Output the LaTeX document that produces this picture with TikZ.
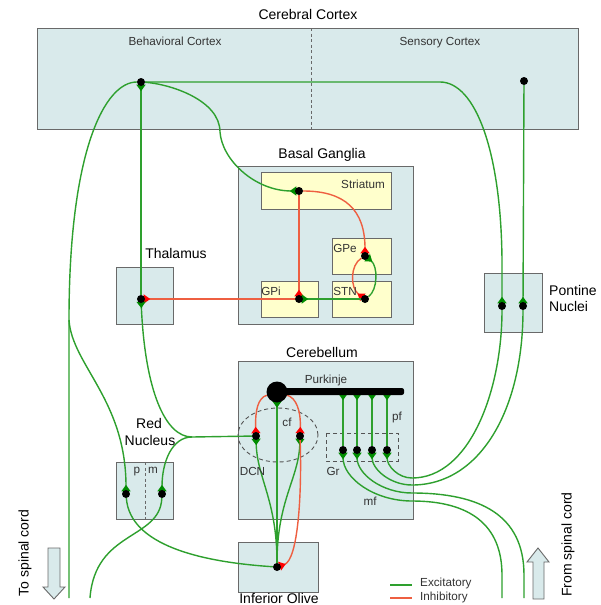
\documentclass[tikz,border=0pt]{standalone}
\usepackage{fontspec}
\setmainfont{Liberation Sans}
\usetikzlibrary{arrows.meta}
\definecolor{boxfill}{RGB}{217,234,235}
\definecolor{boxline}{RGB}{105,105,105}
\definecolor{subfill}{RGB}{255,255,204}
\definecolor{excg}{RGB}{46,160,46}
\definecolor{excgtip}{RGB}{0,140,0}
\definecolor{inhr}{RGB}{238,95,65}
\definecolor{inhrtip}{RGB}{255,0,0}
\definecolor{lblgray}{RGB}{51,51,51}
\pgfdeclarelayer{bg}
\pgfdeclarelayer{mid}
\pgfsetlayers{bg,mid,main}
\tikzset{
  region/.style={draw=boxline, fill=boxfill, line width=0.9pt},
  subreg/.style={draw=boxline, fill=subfill, line width=0.9pt},
  neuron/.style={circle, fill=black, inner sep=0pt, minimum size=8pt},
  exc/.style={draw=excg, line width=1.4pt},
  inh/.style={draw=inhr, line width=1.4pt},
  etip/.style={-{Triangle[reversed, length=6.5pt, width=9pt, color=excgtip]}, shorten >=-1.5pt},
  itip/.style={-{Triangle[reversed, length=6.5pt, width=9pt, color=inhrtip]}, shorten >=-1.5pt},
  big/.style={font=\fontsize{14}{17}\selectfont, text=black, inner sep=0pt},
  small/.style={font=\fontsize{11.7}{14}\selectfont, text=lblgray, inner sep=0pt},
  divider/.style={draw=boxline, line width=0.9pt, dash pattern=on 3pt off 2.5pt},
  dashzone/.style={draw=boxline!80!black, line width=0.9pt, dash pattern=on 4pt off 3pt},
  block/.style={draw=boxline, fill=boxfill, line width=0.9pt},
}
\begin{document}
\begin{tikzpicture}[x=1pt,y=-1pt]
\useasboundingbox (0,0) rectangle (601,605);
\begin{pgfonlayer}{bg}
\fill[white] (0,0) rectangle (601,605);
% regions
\draw[region] (37,28) rectangle (578,129);
\draw[divider] (311,28) -- (311,129);
\draw[region] (238,166) rectangle (413,324);
\draw[subreg] (261,172) rectangle (391,209);
\draw[subreg] (332,238) rectangle (391,274);
\draw[subreg] (261,281) rectangle (318,317);
\draw[subreg] (332,281) rectangle (391,317);
\draw[region] (116,267) rectangle (173,324);
\draw[region] (484,273) rectangle (542,332);
\draw[region] (238,361) rectangle (413,519);
\draw[region] (116,462) rectangle (173,519);
\draw[divider] (145,462) -- (145,519);
\draw[region] (238,542) rectangle (318,592);
\draw[dashzone] (278,435) ellipse [x radius=40pt, y radius=27pt];
\draw[dashzone] (326,433) rectangle (398,461);
% block arrows
\draw[block] (48,548) -- (60,548) -- (60,587) -- (65,587) -- (54,599) -- (43,587) -- (48,587) -- cycle;
\draw[block] (533,599) -- (544,599) -- (544,562) -- (549,562) -- (538,548) -- (527,562) -- (533,562) -- cycle;
\end{pgfonlayer}

% neurons
\node[neuron] (cb) at (141,82) {};
\node[neuron] (cs) at (524,81) {};
\node[neuron] (st) at (299,191) {};
\node[neuron] (gpe) at (365,256) {};
\node[neuron] (gpi) at (299,299) {};
\node[neuron] (stn) at (365,299) {};
\node[neuron] (th) at (141,299) {};
\node[neuron] (pnl) at (502,306) {};
\node[neuron] (pnr) at (523,306) {};
\node[fill=black, rounded corners=2.5pt, inner sep=0pt, minimum width=124pt, minimum height=7pt, anchor=west] (dend) at (280,391.5) {};
\node[circle, fill=black, inner sep=0pt, minimum size=21pt] (pk) at (277,392) {};
\node[neuron] (dcnl) at (256,436) {};
\node[neuron] (dcnr) at (300,436) {};
\node[neuron] (gr1) at (343,450) {};
\node[neuron] (gr2) at (357,450) {};
\node[neuron] (gr3) at (372,450) {};
\node[neuron] (gr4) at (387,450) {};
\node[neuron] (rnp) at (126,494) {};
\node[neuron] (rnm) at (162,494) {};
\node[neuron] (io) at (277,567) {};
\coordinate (jn) at (192,437);
\coordinate (br) at (69,320);
\coordinate (cst) at (69,598);
\coordinate (rst) at (90,598);
\coordinate (spl) at (502,598);
\coordinate (spr) at (524,598);

\begin{pgfonlayer}{mid}
% cortex outputs
\draw[exc] (cb) .. controls (105,82) and (69,150) .. (br) -- (cst);
\draw[exc,etip] (br) .. controls (72,365) and (126,400) .. (rnp);
\draw[exc,etip] (cb) .. controls (170,84) and (220,100) .. (220,132) .. controls (222,160) and (255,191) .. (st);
\draw[exc,etip] (cb) -- (440,82) .. controls (475,82) and (501,150) .. (502,260) -- (pnl);
\draw[exc,etip] (cs) -- (pnr);
\draw[exc,etip] (th) -- (cb);
% basal ganglia
\draw[inh,itip] (st) -- (gpi);
\draw[inh,itip] (st) .. controls (345,191) and (365,210) .. (gpe);
\draw[inh,itip] (gpe) .. controls (350,265) and (350,288) .. (stn);
\draw[exc,etip] (stn) .. controls (378,290) and (378,266) .. (gpe);
\draw[exc,etip] (stn) -- (gpi);
\draw[inh,itip] (gpi) -- (th);
% DCN output
\draw[exc] (dcnl) -- (jn);
\draw[exc,etip] (jn) .. controls (165,437) and (145,390) .. (th);
\draw[exc,etip] (jn) .. controls (172,437) and (162,462) .. (rnm);
% red nucleus outputs
\draw[exc] (rnp) .. controls (130,545) and (200,562) .. (io);
\draw[exc] (rnm) .. controls (160,540) and (95,530) .. (rst);
% cerebellum
\draw[inh,itip] (pk) .. controls (258,398) and (255,410) .. (dcnl);
\draw[inh,itip] (pk) .. controls (296,398) and (301,410) .. (dcnr);
\draw[exc,etip] (io) -- (pk);
\draw[exc,etip] (io) .. controls (277,500) and (257,478) .. (dcnl);
\draw[exc,etip] (io) .. controls (277,500) and (299,478) .. (dcnr);
\draw[inh,itip] (dcnr) .. controls (302,495) and (298,560) .. (io);
\foreach \i in {1,...,4} \draw[exc,etip] (gr\i) -- (gr\i |- dend.south);
% mossy fibres
\draw[exc,etip] (pnl) .. controls (502,390) and (470,478) .. (412,478) .. controls (398,478) and (387,466) .. (gr4);
\draw[exc,etip] (pnr) .. controls (523,410) and (480,485) .. (412,485) .. controls (390,485) and (372,469) .. (gr3);
\draw[exc,etip] (spr) -- (524,575) .. controls (524,515) and (480,493) .. (412,493) .. controls (382,493) and (357,474) .. (gr2);
\draw[exc,etip] (spl) -- (502,575) .. controls (502,525) and (470,501) .. (412,501) .. controls (374,501) and (343,478) .. (gr1);
% legend
\draw[exc] (390,585) -- (412,585);
\draw[inh] (390,598) -- (412,598);
\end{pgfonlayer}

% labels
\node[big, anchor=base] (tCC) at (308,19.5) {Cerebral Cortex};
\node[small, anchor=base] (tBC) at (175,45) {Behavioral Cortex};
\node[small, anchor=base] (tSC) at (440,45.5) {Sensory Cortex};
\node[big, anchor=base] (tBG) at (322,158) {Basal Ganglia};
\node[small, anchor=base] (tSt) at (363,188) {Striatum};
\node[small, anchor=base] (tGPe) at (345,252) {GPe};
\node[small, anchor=base] (tGPi) at (271,295) {GPi};
\node[small, anchor=base] (tSTN) at (345,295) {STN};
\node[big, anchor=base] (tTh) at (176,258) {Thalamus};
\node[big, anchor=base west] (tPN1) at (549,295) {Pontine};
\node[big, anchor=base west] (tPN2) at (549,311.7) {Nuclei};
\node[big, anchor=base] (tCb) at (322,357) {Cerebellum};
\node[small, anchor=base] (tPk) at (326,383) {Purkinje};
\node[small, anchor=base] (tpf) at (397,420) {pf};
\node[small, anchor=base] (tcf) at (287,426) {cf};
\node[small, anchor=base] (tDCN) at (252.5,475) {DCN};
\node[small, anchor=base] (tGr) at (333,475) {Gr};
\node[small, anchor=base] (tmf) at (370,505) {mf};
\node[big, anchor=base] (tRN1) at (149,428) {Red};
\node[big, anchor=base] (tRN2) at (150,445.5) {Nucleus};
\node[small, anchor=base] (tp) at (137,473) {p};
\node[small, anchor=base] (tm) at (153,473) {m};
\node[big, anchor=base] (tIO) at (279,603) {Inferior Olive};
\node[big, anchor=base, rotate=90] (tTo) at (28.5,553) {To spinal cord};
\node[big, anchor=base, rotate=90] (tFrom) at (571.5,544.5) {From spinal cord};
\node[small, anchor=base west] (lgE) at (420,586.5) {Excitatory};
\node[small, anchor=base west] (lgI) at (420,600.5) {Inhibitory};
\end{tikzpicture}
\end{document}
